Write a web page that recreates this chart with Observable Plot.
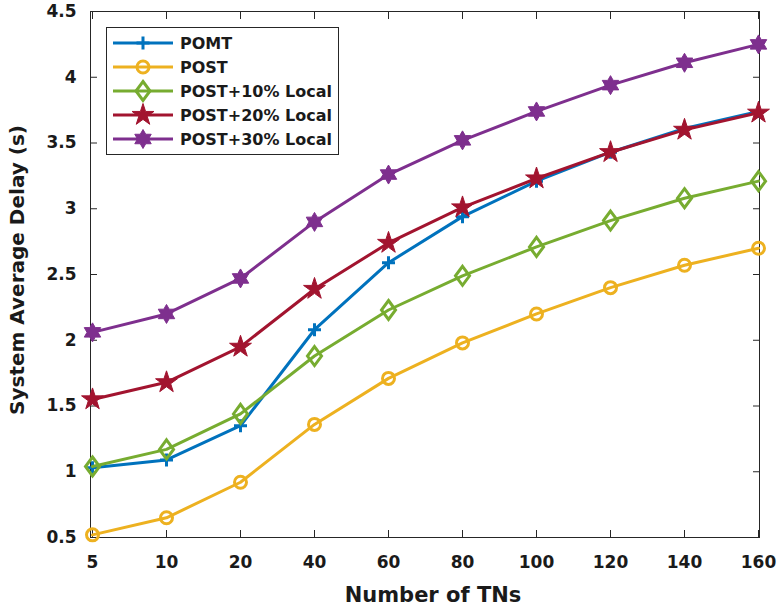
<!DOCTYPE html>
<html>
<head>
<meta charset="utf-8">
<script src="https://cdn.jsdelivr.net/npm/d3@7"></script>
<script src="https://cdn.jsdelivr.net/npm/@observablehq/plot@0.6"></script>
<style>
  html, body { margin: 0; padding: 0; background: #fff; }
  #chart { width: 778px; height: 608px; }
</style>
</head>
<body>
<div id="chart"></div>
<script>
// ---- data ----
const xLabels = ["5", "10", "20", "40", "60", "80", "100", "120", "140", "160"];
const yTicks = [0.5, 1, 1.5, 2, 2.5, 3, 3.5, 4, 4.5];
const seriesNames = ["POMT", "POST", "POST+10% Local", "POST+20% Local", "POST+30% Local"];
const pomt   = [1.03, 1.09, 1.35, 2.08, 2.59, 2.94, 3.21, 3.43, 3.61, 3.74];
const post   = [0.52, 0.65, 0.92, 1.36, 1.71, 1.98, 2.20, 2.40, 2.57, 2.70];
const post10 = [1.04, 1.17, 1.44, 1.88, 2.23, 2.49, 2.71, 2.91, 3.08, 3.21];
const post20 = [1.55, 1.68, 1.95, 2.39, 2.74, 3.01, 3.23, 3.43, 3.60, 3.73];
const post30 = [2.06, 2.20, 2.47, 2.90, 3.26, 3.52, 3.74, 3.94, 4.11, 4.25];
const xTitle = "Number of TNs";
const yTitle = "System Average Delay (s)";

const colors = ["#0072BD", "#EDB120", "#77AC30", "#A2142F", "#7E2F8E"];
const allValues = [pomt, post, post10, post20, post30];

// ---- custom marker shapes (MATLAB-like) ----
const rad = s => Math.sqrt(s / Math.PI);
const symPlus = { draw(c, s) { const r = rad(s); c.moveTo(-r, 0); c.lineTo(r, 0); c.moveTo(0, -r); c.lineTo(0, r); } };
const symCircle = { draw(c, s) { const r = rad(s); c.moveTo(r, 0); c.arc(0, 0, r, 0, 2 * Math.PI); c.closePath(); } };
const symDiamond = { draw(c, s) { const r = rad(s), w = r * 0.74; c.moveTo(0, -r); c.lineTo(w, 0); c.lineTo(0, r); c.lineTo(-w, 0); c.closePath(); } };
function starSym(n, ratio) {
  return { draw(c, s) {
    const R = rad(s), ri = R * ratio;
    for (let i = 0; i < 2 * n; i++) {
      const a = -Math.PI / 2 + i * Math.PI / n;
      const rr = i % 2 === 0 ? R : ri;
      const px = rr * Math.cos(a), py = rr * Math.sin(a);
      if (i === 0) c.moveTo(px, py); else c.lineTo(px, py);
    }
    c.closePath();
  } };
}
const symPenta = starSym(5, 0.382);
const symHexa = starSym(6, 0.577);

const markerDefs = [
  { symbol: symPlus,    r: 6.5, fill: "none",   strokeWidth: 3 },
  { symbol: symCircle,  r: 6,   fill: "none",   strokeWidth: 3 },
  { symbol: symDiamond, r: 9.5, fill: "none",   strokeWidth: 3 },
  { symbol: symPenta,   r: 11.5, fill: "color", strokeWidth: 1 },
  { symbol: symHexa,    r: 9.5, fill: "color",  strokeWidth: 1 }
];

const table = [];
seriesNames.forEach((name, i) => {
  allValues[i].forEach((v, j) => table.push({ series: name, x: xLabels[j], y: v }));
});

const axisColor = "#262626";
const marks = [
  Plot.frame({ stroke: axisColor, strokeWidth: 1 }),
  Plot.axisX(xLabels, { anchor: "bottom", tickSize: -7, tickFormat: () => "", stroke: axisColor, label: null }),
  Plot.axisX(xLabels, { anchor: "top", tickSize: -7, tickFormat: () => "", stroke: axisColor, label: null }),
  Plot.axisX(xLabels, { anchor: "bottom", tickSize: 0, tickPadding: 18, fill: "#1a1a1a", label: null }),
  Plot.axisY(yTicks, { anchor: "left", tickSize: -7, tickFormat: () => "", stroke: axisColor, label: null }),
  Plot.axisY(yTicks, { anchor: "right", tickSize: -7, tickFormat: () => "", stroke: axisColor, label: null }),
  Plot.axisY(yTicks, { anchor: "left", tickSize: 0, tickPadding: 14, tickFormat: d => String(d), fill: "#1a1a1a", label: null })
];
seriesNames.forEach((name, i) => {
  const data = table.filter(d => d.series === name);
  const m = markerDefs[i];
  marks.push(Plot.line(data, { x: "x", y: "y", stroke: colors[i], strokeWidth: 3 }));
  marks.push(Plot.dot(data, {
    x: "x", y: "y", r: m.r, symbol: () => m.symbol,
    stroke: colors[i], strokeWidth: m.strokeWidth,
    fill: m.fill === "color" ? colors[i] : "none"
  }));
});

const chart = Plot.plot({
  width: 778,
  height: 608,
  marginLeft: 90,
  marginRight: 19,
  marginTop: 11,
  marginBottom: 71,
  style: { fontFamily: "DejaVu Sans", fontWeight: "bold", fontSize: "17px", background: "#fff", color: "#1a1a1a" },
  x: { type: "point", domain: xLabels, padding: 0, label: null },
  y: { domain: [0.5, 4.5], label: null },
  symbol: { type: "identity" },
  marks
});

// ---- axis titles and legend ----
const svg = d3.select(chart);
svg.append("text")
  .attr("transform", "translate(17,270) rotate(-90)")
  .attr("text-anchor", "middle").attr("dominant-baseline", "central")
  .style("font", "bold 20px 'DejaVu Sans'").attr("fill", "#1a1a1a")
  .text(yTitle);
svg.append("text")
  .attr("x", 433).attr("y", 595)
  .attr("text-anchor", "middle").attr("dominant-baseline", "central")
  .style("font", "bold 21px 'DejaVu Sans'").attr("fill", "#1a1a1a")
  .text(xTitle);

const lg = svg.append("g");
lg.append("rect").attr("x", 106.5).attr("y", 27.5).attr("width", 232).attr("height", 127)
  .attr("fill", "#fff").attr("stroke", axisColor).attr("stroke-width", 1);
seriesNames.forEach((name, i) => {
  const y = 43 + i * 24;
  const m = markerDefs[i];
  lg.append("line").attr("x1", 113).attr("x2", 173).attr("y1", y).attr("y2", y)
    .attr("stroke", colors[i]).attr("stroke-width", 3);
  lg.append("path")
    .attr("transform", `translate(143,${y})`)
    .attr("d", d3.symbol().type(m.symbol).size(Math.PI * m.r * m.r)())
    .attr("stroke", colors[i]).attr("stroke-width", m.strokeWidth)
    .attr("fill", m.fill === "color" ? colors[i] : "none");
  lg.append("text").attr("x", 180).attr("y", y)
    .attr("text-anchor", "start").attr("dominant-baseline", "central")
    .style("font", "bold 16px 'DejaVu Sans'").attr("fill", "#1a1a1a")
    .text(name);
});

document.getElementById("chart").appendChild(chart);
</script>
</body>
</html>
